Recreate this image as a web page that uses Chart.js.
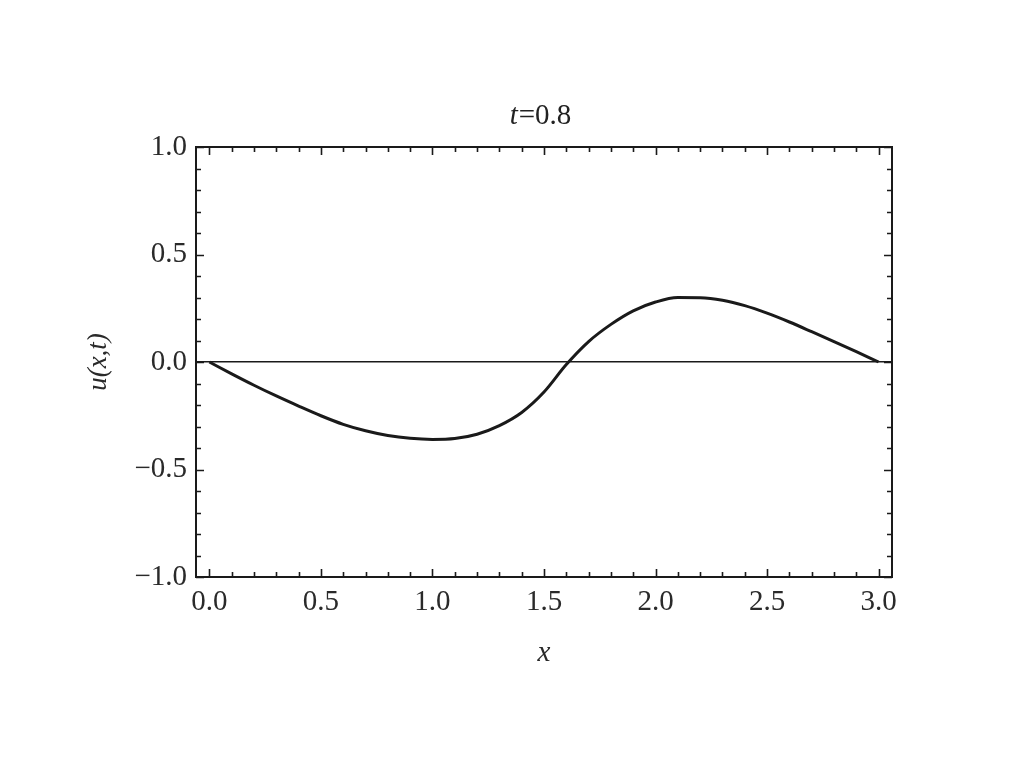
<!DOCTYPE html>
<html>
<head>
<meta charset="utf-8">
<script src="https://cdn.jsdelivr.net/npm/chart.js@4.4.0/dist/chart.umd.min.js"></script>
<style>
  html, body { margin: 0; padding: 0; background: #fff; }
  #wrap { width: 1024px; height: 768px; }
</style>
</head>
<body>
<div id="wrap"><canvas id="plot" width="1024" height="768"></canvas></div>
<script>
// u(x,t) at t = 0.8
let xs = [0.0, 0.1, 0.2, 0.3, 0.4, 0.5, 0.6, 0.7, 0.8, 0.9, 1.0, 1.1, 1.2, 1.3, 1.4, 1.5,
          1.6, 1.7, 1.8, 1.9, 2.0, 2.1, 2.2, 2.3, 2.4, 2.5, 2.6, 2.7, 2.8, 2.9, 3.0];
let us = [0, -0.055, -0.108, -0.158, -0.205, -0.25, -0.29, -0.32, -0.342, -0.355, -0.36,
          -0.356, -0.336, -0.296, -0.235, -0.14, -0.012, 0.095, 0.175, 0.238, 0.279, 0.3,
          0.299, 0.287, 0.262, 0.227, 0.186, 0.141, 0.095, 0.048, 0];
let xTicks = [0.0, 0.5, 1.0, 1.5, 2.0, 2.5, 3.0];
let yTicks = [-1.0, -0.5, 0.0, 0.5, 1.0];
let timeLabel = "0.8";

const serif = "'Liberation Serif', 'DejaVu Serif', serif";
const ink = '#1a1a1a';

function fmt(v) {
    let s = Math.abs(v).toFixed(1);
    return v < 0 ? '\u2212' + s : s;
}

// Mathematica style frame: box, inward ticks on all four sides, title
const framePlugin = {
    id: 'frame',
    afterDraw(chart) {
        const ctx = chart.ctx;
        const a = chart.chartArea;
        const sx = chart.scales.x;
        const sy = chart.scales.y;
        ctx.save();
        ctx.strokeStyle = ink;
        ctx.lineWidth = 1.6;
        // minor + major ticks
        for (let i = 0; i <= 30; i++) {
            let v = i / 10;
            let len = (i % 5 === 0) ? 8 : 5;
            let px = Math.round(sx.getPixelForValue(v)) + 0.5;
            ctx.beginPath();
            ctx.moveTo(px, a.bottom); ctx.lineTo(px, a.bottom - len);
            ctx.moveTo(px, a.top); ctx.lineTo(px, a.top + len);
            ctx.stroke();
        }
        for (let i = -10; i <= 10; i++) {
            let v = i / 10;
            let len = (i % 5 === 0) ? 8 : 5;
            let py = Math.round(sy.getPixelForValue(v)) + 0.5;
            ctx.beginPath();
            ctx.moveTo(a.left, py); ctx.lineTo(a.left + len, py);
            ctx.moveTo(a.right, py); ctx.lineTo(a.right - len, py);
            ctx.stroke();
        }
        ctx.lineWidth = 2;
        ctx.strokeRect(a.left, a.top, a.right - a.left, a.bottom - a.top);

        // title: italic t, upright "=0.8"
        ctx.fillStyle = '#222';
        ctx.textBaseline = 'middle';
        let italic = 'italic 29px ' + serif;
        let upright = '29px ' + serif;
        ctx.font = italic;
        let w1 = ctx.measureText('t').width;
        ctx.font = upright;
        let w2 = ctx.measureText('=' + timeLabel).width;
        let cx = (a.left + a.right) / 2 - 4;
        let x0 = cx - (w1 + w2) / 2;
        ctx.textAlign = 'left';
        ctx.font = italic;
        ctx.fillText('t', x0, 116);
        ctx.font = upright;
        ctx.fillText('=' + timeLabel, x0 + w1 + 1, 116);
        ctx.restore();
    }
};

let ctx = document.getElementById('plot');
let myChart = new Chart(ctx, {
    type: 'scatter',
    data: {
        datasets: [{
            label: 'u(x,t)',
            data: xs.map((x, i) => ({ x: x, y: us[i] })),
            showLine: true,
            borderColor: ink,
            borderWidth: 3,
            pointRadius: 0,
            cubicInterpolationMode: 'monotone',
            fill: false
        }]
    },
    options: {
        responsive: false,
        animation: false,
        layout: { padding: { top: 147, right: 132, bottom: 91, left: 0 } },
        plugins: {
            legend: { display: false },
            tooltip: { enabled: false },
            title: { display: false }
        },
        scales: {
            x: {
                type: 'linear',
                min: -0.06,
                max: 3.06,
                afterBuildTicks: (scale) => { scale.ticks = xTicks.map(v => ({ value: v })); },
                afterFit: (scale) => { scale.height = 100; },
                grid: { display: false, drawTicks: false },
                border: { display: false },
                ticks: {
                    padding: 8,
                    color: '#2a2a2a',
                    font: { family: serif, size: 29 },
                    callback: (v) => fmt(v),
                    maxRotation: 0,
                    autoSkip: false
                },
                title: {
                    display: true,
                    text: 'x',
                    color: '#2a2a2a',
                    font: { family: serif, size: 29, style: 'italic' },
                    padding: { top: 0, bottom: 6 }
                }
            },
            y: {
                type: 'linear',
                min: -1,
                max: 1,
                afterBuildTicks: (scale) => { scale.ticks = yTicks.map(v => ({ value: v })); },
                afterFit: (scale) => { scale.width = 196; },
                grid: {
                    drawTicks: false,
                    lineWidth: 1.6,
                    color: (c) => (c.tick && c.tick.value === 0) ? ink : 'rgba(0,0,0,0)'
                },
                border: { display: false },
                ticks: {
                    padding: 9,
                    color: '#2a2a2a',
                    font: { family: serif, size: 29 },
                    callback: (v) => fmt(v),
                    autoSkip: false
                },
                title: {
                    display: true,
                    text: 'u(x,t)',
                    color: '#2a2a2a',
                    font: { family: serif, size: 27, style: 'italic' },
                    padding: { top: 83, bottom: 0 }
                }
            }
        }
    },
    plugins: [framePlugin]
});
</script>
</body>
</html>
